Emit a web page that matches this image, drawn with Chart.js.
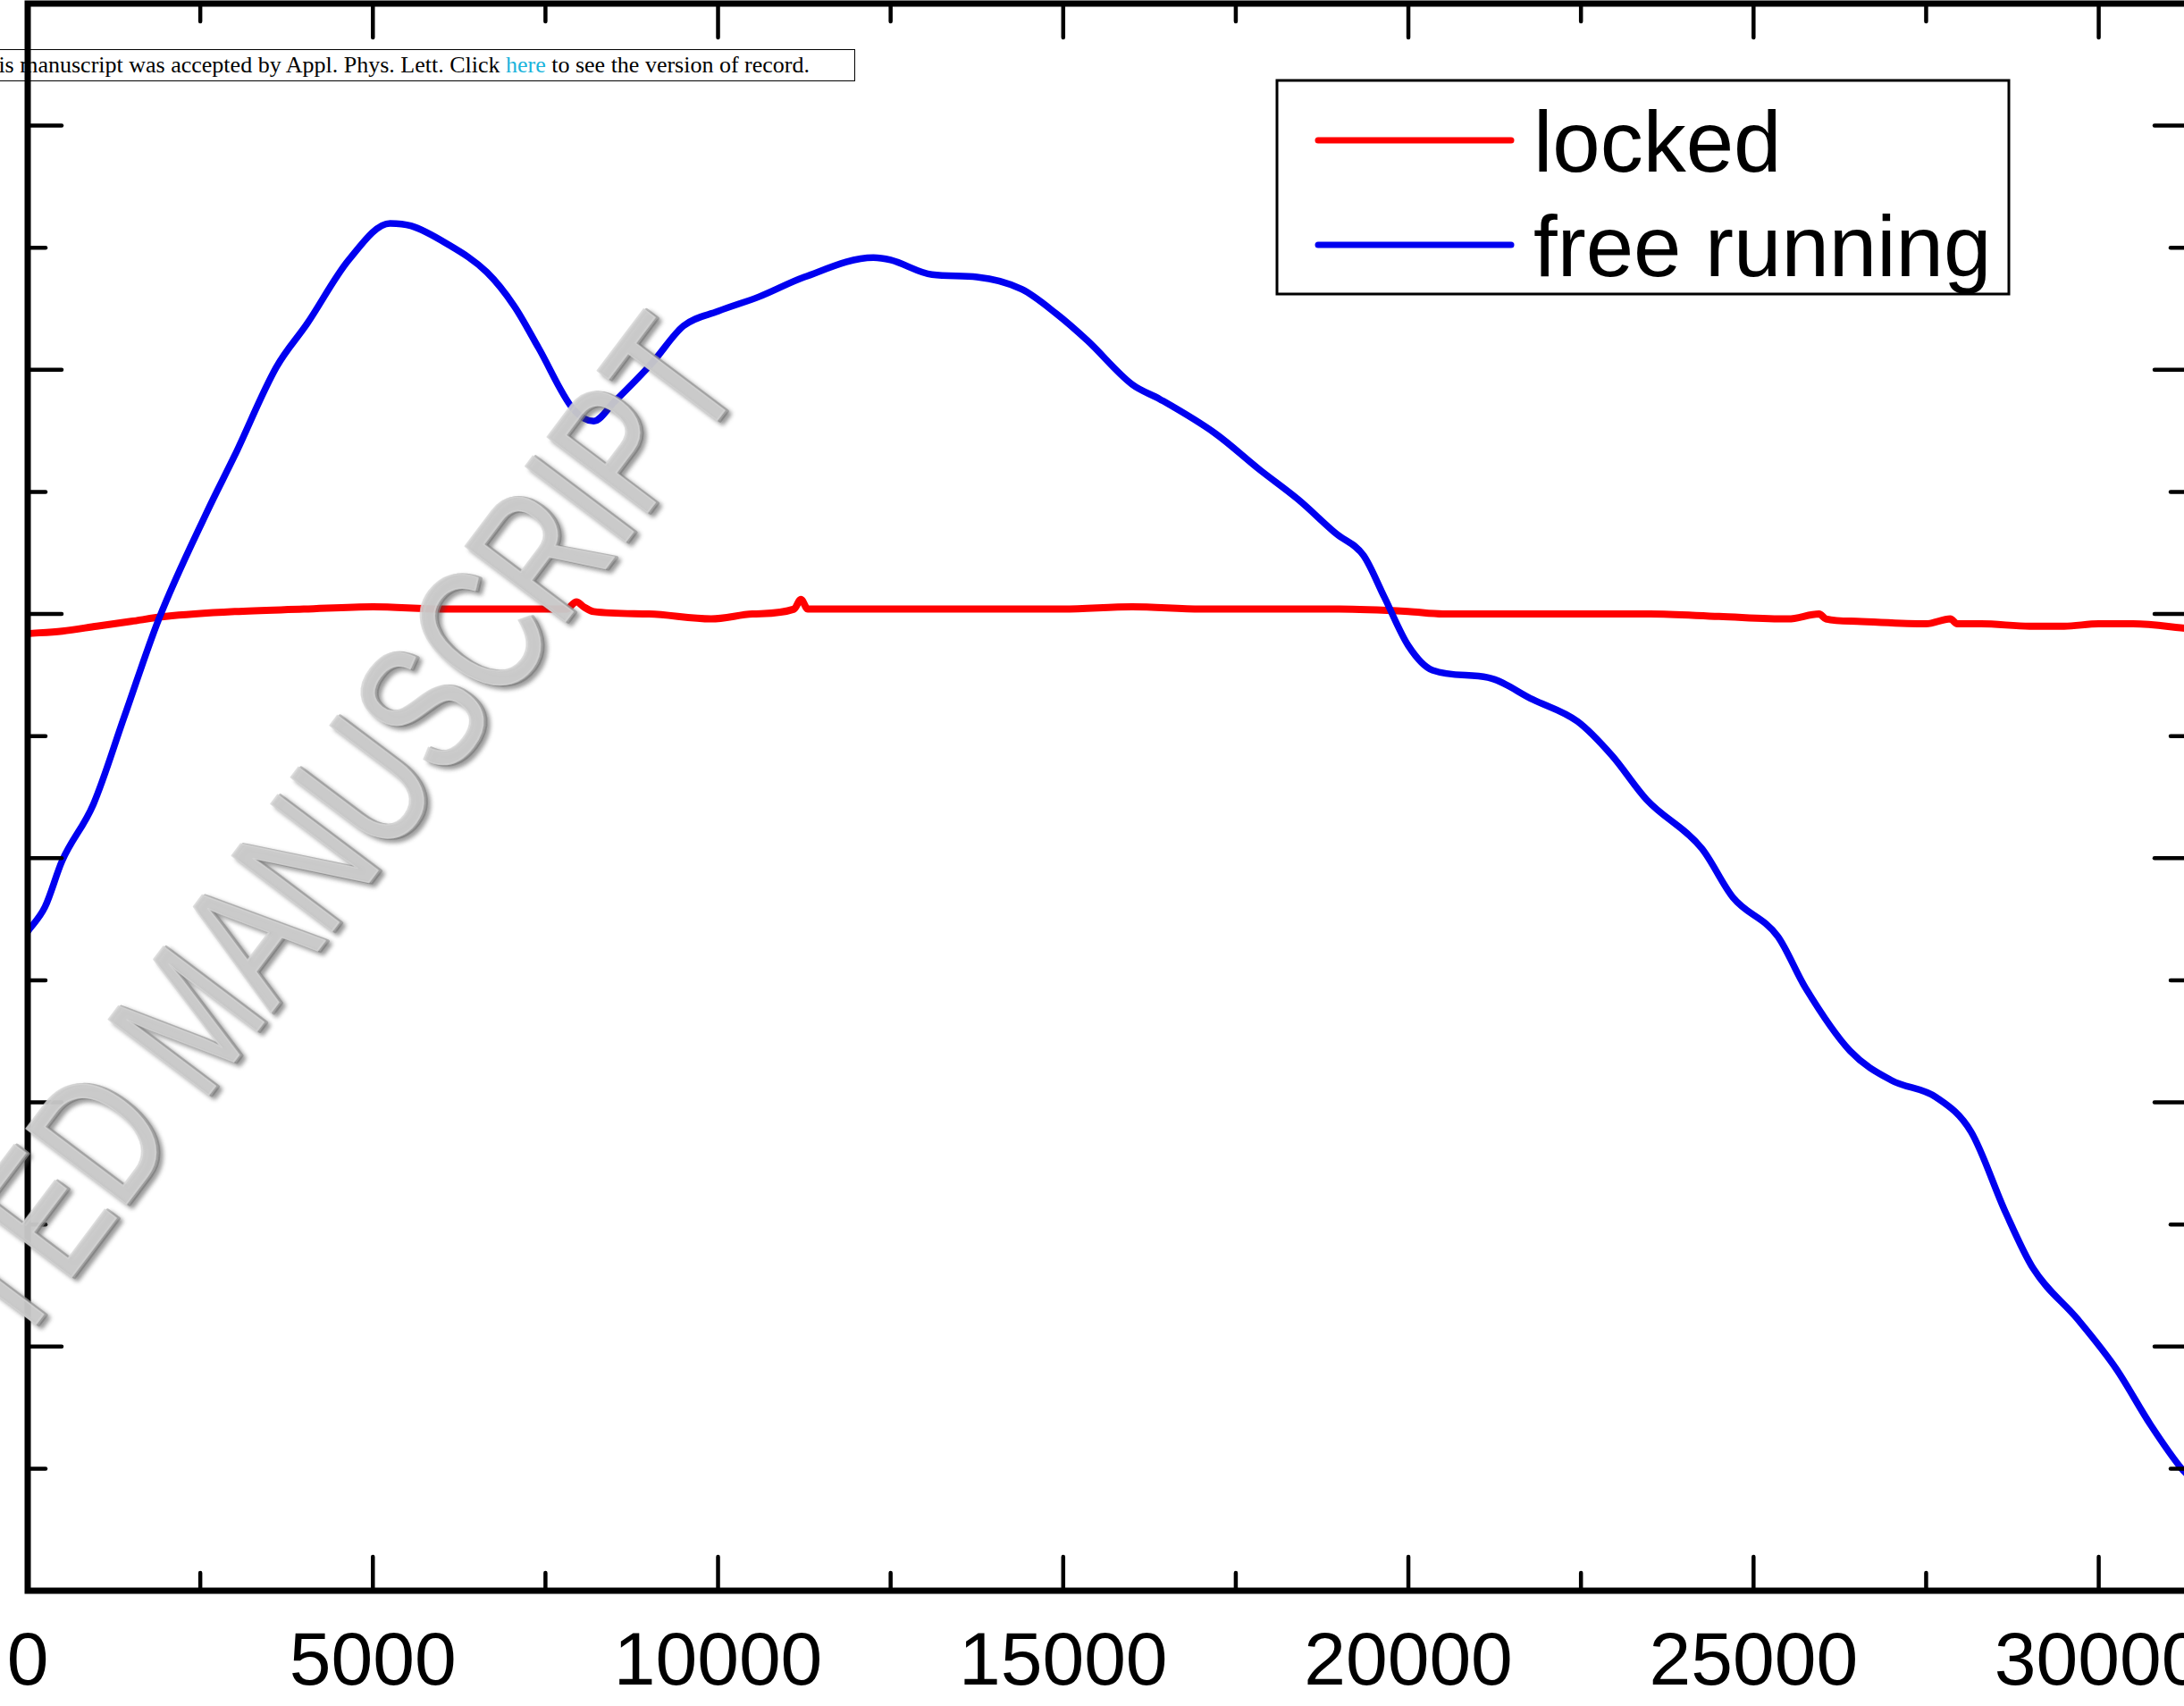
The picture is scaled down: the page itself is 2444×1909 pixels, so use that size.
<!DOCTYPE html>
<html>
<head>
<meta charset="utf-8">
<script src="https://cdn.jsdelivr.net/npm/chart.js@4.4.1/dist/chart.umd.min.js"></script>
<style>
	html, body { margin: 0; padding: 0; width: 2444px; height: 1909px; overflow: hidden; background: #fff; }
	#wrap { position: relative; width: 2444px; height: 1909px; overflow: hidden; }
	#note {
		position: absolute; top: 55px; right: 1487px; height: 36px; box-sizing: border-box;
		border: 1.5px solid #000; padding: 0 50px 0 8px; background: #fff; color: #000;
		font: 26px "Liberation Serif", "Times New Roman", serif; line-height: 33px; white-space: nowrap;
	}
	#note span { color: #1ab4dc; }
	#chart { position: absolute; left: 0; top: 0; }
</style>
</head>
<body>
<div id="wrap">
	<div id="note">This manuscript was accepted by Appl. Phys. Lett. Click <span>here</span> to see the version of record.</div>
	<canvas id="chart" width="2480" height="1909"></canvas>
</div>
<script>
// x tick labels
const xTickValues = [0, 5000, 10000, 15000, 20000, 25000, 30000];

// locked (red)
const lockedX = [0, 500, 1000, 1500, 2000, 3000, 4000, 5000, 6000, 7000, 7800, 7950, 8050, 8200, 9000, 9900, 10500, 11100, 11200, 11300, 12500, 13700, 15000, 16000, 17000, 18000, 19000, 20000, 20500, 21500, 22500, 23500, 24500, 25500, 25950, 26050, 26500, 27500, 27850, 27950, 28300, 29000, 29500, 30000, 30500, 31300];
const lockedY = [3.92, 3.93, 3.95, 3.97, 3.99, 4.01, 4.02, 4.03, 4.02, 4.02, 4.02, 4.05, 4.03, 4.01, 4.00, 3.98, 4.00, 4.02, 4.06, 4.02, 4.02, 4.02, 4.02, 4.03, 4.02, 4.02, 4.02, 4.01, 4.00, 4.00, 4.00, 4.00, 3.99, 3.98, 4.00, 3.98, 3.97, 3.96, 3.98, 3.96, 3.96, 3.95, 3.95, 3.96, 3.96, 3.94];

// free running (blue)
const freeX = [0, 250, 500, 950, 1400, 1900, 2600, 3000, 3600, 4050, 4650, 5250, 5550, 6050, 6650, 7050, 7400, 7900, 8200, 8500, 9050, 9500, 10000, 10600, 11250, 12250, 12500, 13100, 13750, 14400, 14900, 15350, 16000, 16400, 17200, 17850, 18400, 18950, 19350, 19650, 20000, 20350, 21150, 21800, 22450, 22950, 23450, 24250, 24700, 25350, 25750, 26400, 27000, 27650, 28150, 28650, 29050, 29700, 30250, 30750, 31200, 31300];
const freeY = [2.70, 2.80, 2.99, 3.22, 3.58, 3.98, 4.42, 4.65, 5.01, 5.19, 5.45, 5.60, 5.59, 5.52, 5.40, 5.26, 5.09, 4.84, 4.79, 4.87, 5.03, 5.18, 5.24, 5.30, 5.38, 5.46, 5.45, 5.39, 5.38, 5.33, 5.23, 5.12, 4.94, 4.88, 4.74, 4.59, 4.47, 4.33, 4.24, 4.07, 3.87, 3.77, 3.74, 3.65, 3.56, 3.42, 3.24, 3.04, 2.84, 2.68, 2.47, 2.21, 2.09, 2.02, 1.88, 1.55, 1.32, 1.11, 0.91, 0.68, 0.50, 0.47];

function points(xs, ys) {
	return xs.map((x, i) => ({ x: x, y: ys[i] }));
}

const FONT = '"Liberation Sans", Arial, sans-serif';

// inward ticks on all four sides plus the box
const framePlugin = {
	id: 'frame',
	afterDatasetsDraw(chart) {
		const ctx = chart.ctx;
		const a = chart.chartArea;
		const x = chart.scales.x;
		const y = chart.scales.y;

		function seg(x1, y1, x2, y2) {
			ctx.beginPath();
			ctx.moveTo(x1, y1);
			ctx.lineTo(x2, y2);
			ctx.stroke();
		}

		ctx.save();
		ctx.strokeStyle = '#000';
		ctx.lineCap = 'round';
		ctx.lineWidth = 4.5;

		for (let v = 0; v <= x.max; v += 2500) {
			const px = x.getPixelForValue(v);
			const len = v % 5000 === 0 ? 38 : 20;
			seg(px, a.bottom, px, a.bottom - len);
			seg(px, a.top, px, a.top + len);
		}
		for (let v = 0; v <= y.max + 0.01; v += 0.5) {
			const py = y.getPixelForValue(v);
			const len = Number.isInteger(v) ? 38 : 20;
			seg(a.left, py, a.left + len, py);
			seg(a.right, py, a.right - len, py);
		}

		ctx.lineCap = 'butt';
		ctx.lineWidth = 7;
		ctx.strokeRect(a.left, a.top, a.right - a.left, a.bottom - a.top);
		ctx.restore();
	}
};

const legendPlugin = {
	id: 'boxLegend',
	afterDatasetsDraw(chart) {
		const ctx = chart.ctx;
		ctx.save();
		ctx.fillStyle = '#fff';
		ctx.fillRect(1429, 90, 819, 239);
		ctx.strokeStyle = '#000';
		ctx.lineWidth = 3;
		ctx.strokeRect(1429, 90, 819, 239);

		chart.data.datasets.forEach((ds, i) => {
			const ly = 157 + i * 117;
			ctx.strokeStyle = ds.borderColor;
			ctx.lineWidth = 7;
			ctx.lineCap = 'round';
			ctx.beginPath();
			ctx.moveTo(1475, ly);
			ctx.lineTo(1691, ly);
			ctx.stroke();

			ctx.fillStyle = '#000';
			ctx.font = '96px ' + FONT;
			ctx.textBaseline = 'alphabetic';
			ctx.textAlign = 'left';
			ctx.fillText(ds.label, 1716, ly + 35);
		});
		ctx.restore();
	}
};

const watermarkPlugin = {
	id: 'watermark',
	afterDraw(chart) {
		const ctx = chart.ctx;
		const text = 'ACCEPTED MANUSCRIPT';
		ctx.save();
		ctx.translate(838, 428);
		ctx.rotate(-53 * Math.PI / 180);
		ctx.scale(0.75, 1);
		ctx.font = '204px ' + FONT;
		ctx.textAlign = 'right';
		ctx.textBaseline = 'alphabetic';
		ctx.lineJoin = 'round';
		ctx.globalAlpha = 0.75;
		ctx.shadowColor = 'rgba(60, 60, 60, 0.6)';
		ctx.shadowBlur = 5;
		ctx.shadowOffsetX = 3;
		ctx.shadowOffsetY = 3;
		ctx.fillStyle = '#a8a8a8';
		ctx.strokeStyle = '#a8a8a8';
		ctx.lineWidth = 4;
		ctx.strokeText(text, 0, 0);
		ctx.fillText(text, 0, 0);
		ctx.shadowColor = 'transparent';
		ctx.fillStyle = '#d6d6d6';
		ctx.strokeStyle = '#d6d6d6';
		ctx.lineWidth = 2;
		ctx.strokeText(text, -2, -3);
		ctx.fillText(text, -2, -3);
		ctx.restore();
	}
};

new Chart(document.getElementById('chart'), {
	type: 'scatter',
	data: {
		datasets: [
			{
				label: 'locked',
				data: points(lockedX, lockedY),
				borderColor: '#ff0000',
				backgroundColor: '#ff0000',
				borderWidth: 8,
				showLine: true,
				pointRadius: 0,
				cubicInterpolationMode: 'monotone',
				order: 1
			},
			{
				label: 'free running',
				data: points(freeX, freeY),
				borderColor: '#0000f0',
				backgroundColor: '#0000f0',
				borderWidth: 7.5,
				showLine: true,
				pointRadius: 0,
				cubicInterpolationMode: 'monotone',
				order: 0
			}
		]
	},
	options: {
		responsive: false,
		animation: false,
		devicePixelRatio: 1,
		layout: {
			padding: { left: 0, top: 4, right: 31, bottom: 0 }
		},
		scales: {
			x: {
				type: 'linear',
				position: 'bottom',
				min: 0,
				max: 31300,
				grid: {
					display: true,
					drawOnChartArea: false,
					drawTicks: true,
					tickLength: 31,
					tickColor: 'rgba(0,0,0,0)'
				},
				border: { display: false },
				afterBuildTicks: function(scale) {
					scale.ticks = xTickValues.map(v => ({ value: v }));
				},
				afterFit: function(scale) {
					scale.height = 129;
				},
				ticks: {
					color: '#000',
					padding: 0,
					maxRotation: 0,
					font: { family: FONT, size: 84 },
					callback: function(value) {
						return String(value);
					}
				}
			},
			y: {
				type: 'linear',
				min: 0,
				max: 6.5,
				grid: { display: false },
				border: { display: false },
				ticks: { display: false },
				afterFit: function(scale) {
					scale.width = 31;
				}
			}
		},
		plugins: {
			legend: { display: false },
			tooltip: { enabled: false }
		}
	},
	plugins: [framePlugin, legendPlugin, watermarkPlugin]
});
</script>
</body>
</html>
